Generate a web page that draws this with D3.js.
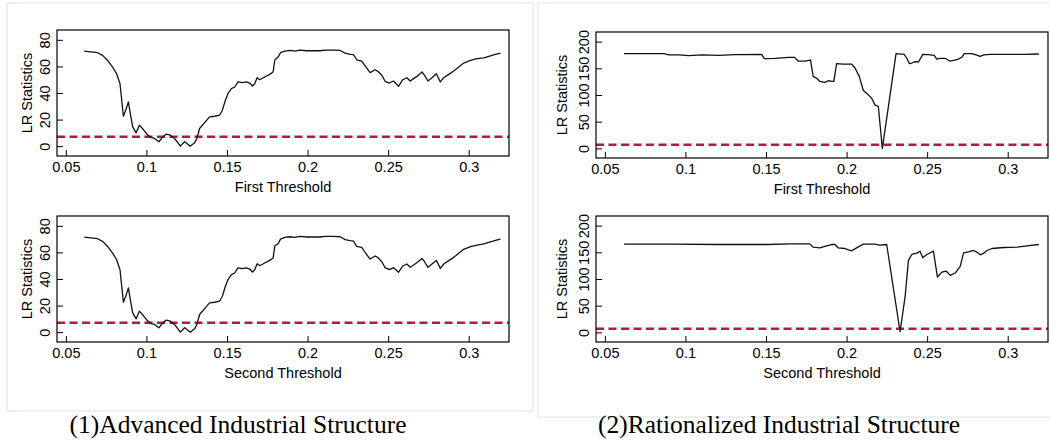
<!DOCTYPE html>
<html>
<head>
<meta charset="utf-8">
<script src="https://cdn.jsdelivr.net/npm/d3@7"></script>
<style>
  body { margin: 0; background: #fff; }
  svg { display: block; }
  .tick text { font-family: "Liberation Sans", Arial, sans-serif; font-size: 14.5px; fill: #000; }
  .tick line { stroke: #000; }
</style>
</head>
<body>
<div id="chart"></div>
<script>
// threshold grid and LR statistics
var advFirstX = [0.0614, 0.0697, 0.0728, 0.0759, 0.0790, 0.0815, 0.0836, 0.0857, 0.0873, 0.0888, 0.0900, 0.0915,
    0.0936, 0.0956, 0.0981, 0.1008, 0.1029, 0.1050, 0.1077, 0.1102, 0.1122, 0.1149, 0.1174, 0.1191, 0.1210,
    0.1237, 0.1251, 0.1272, 0.1299, 0.1313, 0.1330, 0.1365, 0.1392, 0.1423, 0.1454, 0.1471, 0.1490, 0.1506,
    0.1527, 0.1548, 0.1568, 0.1595, 0.1620, 0.1641, 0.1658, 0.1672, 0.1687, 0.1703, 0.1734, 0.1765, 0.1786,
    0.1797, 0.1817, 0.1832, 0.1859, 0.1890, 0.1921, 0.1952, 0.1994, 0.2035, 0.2077, 0.2108, 0.2160, 0.2202,
    0.2233, 0.2264, 0.2285, 0.2305, 0.2336, 0.2363, 0.2388, 0.2419, 0.2434, 0.2461, 0.2481, 0.2508, 0.2533,
    0.2550, 0.2564, 0.2591, 0.2616, 0.2637, 0.2658, 0.2678, 0.2710, 0.2726, 0.2747, 0.2772, 0.2799, 0.2824,
    0.2845, 0.2876, 0.2907, 0.2938, 0.2969, 0.3011, 0.3052, 0.3094, 0.3135, 0.3166, 0.3197];
var advFirstLR = [71.5, 70.3, 68.3, 64.5, 59.5, 54.5, 47.0, 22.5, 27.5, 33.3, 24.5, 14.5,
    10.0, 15.8, 12.5, 8.3, 6.5, 5.8, 3.3, 7.0, 9.0, 8.3, 5.8, 3.3, 0.0,
    3.3, 2.0, 0.0, 2.5, 5.8, 13.3, 18.3, 22.0, 22.5, 23.3, 27.0, 34.5, 39.5,
    43.3, 44.5, 48.3, 47.8, 48.3, 47.5, 45.3, 47.0, 51.5, 50.0, 52.0, 54.0, 55.8,
    65.0, 67.0, 70.3, 71.5, 72.0, 71.5, 72.3, 71.8, 71.8, 71.8, 72.3, 72.3, 72.0,
    70.0, 69.0, 68.8, 65.0, 64.0, 59.5, 55.3, 57.5, 56.5, 53.3, 48.8, 47.5, 49.0,
    47.0, 45.0, 50.0, 51.5, 49.0, 50.8, 52.5, 55.8, 53.3, 49.0, 51.5, 54.5, 48.3,
    51.5, 54.0, 56.5, 59.5, 62.5, 64.5, 65.8, 66.5, 68.0, 69.0, 70.0];

var advSecondX = advFirstX.slice();
var advSecondLR = [71.5, 70.3, 68.3, 64.5, 59.5, 54.5, 47.0, 22.5, 27.5, 33.3, 24.5, 14.5,
    10.0, 15.8, 12.5, 8.3, 6.5, 5.8, 3.3, 7.0, 9.0, 8.3, 5.8, 3.3, 0.0,
    3.3, 2.0, 0.0, 2.5, 5.8, 13.3, 18.3, 22.0, 22.5, 23.3, 27.0, 34.5, 39.5,
    43.3, 44.5, 48.3, 47.8, 48.3, 47.5, 45.3, 47.0, 51.5, 50.0, 52.0, 54.0, 55.8,
    65.0, 66.5, 70.0, 71.3, 71.8, 71.3, 72.0, 71.6, 71.6, 71.6, 72.1, 72.1, 71.8,
    69.6, 68.8, 68.5, 64.5, 63.8, 59.0, 55.0, 57.3, 56.3, 53.0, 48.5, 47.0, 48.5,
    46.8, 45.0, 49.8, 51.3, 48.8, 50.5, 52.3, 55.5, 53.0, 48.8, 51.3, 54.0, 48.0,
    51.3, 53.8, 56.3, 59.3, 62.3, 64.3, 65.5, 66.5, 68.0, 69.0, 70.0];

var ratFirstX = [0.0619, 0.0691, 0.0866, 0.0897, 0.0959, 0.1021, 0.1103, 0.1206, 0.1309, 0.1473, 0.1490,
    0.1556, 0.1638, 0.1678, 0.1699, 0.1741, 0.1776, 0.1793, 0.1813, 0.1834, 0.1865, 0.1886, 0.1907, 0.1921,
    0.1938, 0.1979, 0.2031, 0.2052, 0.2079, 0.2104, 0.2135, 0.2156, 0.2176, 0.2197, 0.2222, 0.2307,
    0.2357, 0.2373, 0.2390, 0.2405, 0.2425, 0.2446, 0.2473, 0.2508, 0.2544, 0.2560, 0.2581, 0.2612,
    0.2639, 0.2664, 0.2695, 0.2716, 0.2730, 0.2778, 0.2799, 0.2830, 0.2851, 0.2892, 0.2996, 0.3100, 0.3193];
var ratFirstLR = [177.4, 177.4, 177.4, 175.0, 175.0, 173.7, 175.0, 174.3, 175.6, 176.2, 168.0,
    168.7, 170.5, 170.5, 163.6, 163.6, 165.5, 134.8, 131.7, 125.4, 123.5, 126.7, 125.4, 125.4,
    158.6, 158.0, 158.0, 150.5, 134.8, 108.5, 100.3, 94.0, 81.5, 78.4, 0.0, 177.4,
    176.2, 169.3, 158.6, 159.9, 162.4, 161.8, 176.2, 175.6, 174.3, 167.4, 168.7, 168.7,
    163.6, 164.9, 167.4, 171.0, 177.4, 177.4, 175.6, 172.4, 175.0, 176.2, 176.2, 176.2, 176.8];

var ratSecondX = [0.0619, 0.0897, 0.1206, 0.1514, 0.1647, 0.1772, 0.1793, 0.1834, 0.1876, 0.1907, 0.1927,
    0.1948, 0.1990, 0.2031, 0.2062, 0.2104, 0.2176, 0.2207, 0.2249, 0.2332, 0.2363, 0.2384, 0.2405,
    0.2436, 0.2456, 0.2473, 0.2498, 0.2539, 0.2564, 0.2591, 0.2618, 0.2643, 0.2674, 0.2705, 0.2726,
    0.2757, 0.2788, 0.2809, 0.2830, 0.2851, 0.2871, 0.2902, 0.2975, 0.3058, 0.3120, 0.3193];
var ratSecondLR = [165.2, 165.2, 164.6, 164.6, 165.8, 165.8, 159.6, 158.4, 162.1, 164.6, 164.6,
    158.4, 157.1, 152.8, 158.4, 165.2, 165.2, 163.3, 164.6, 1.2, 66.4, 134.8, 145.9,
    148.4, 152.1, 139.7, 145.9, 152.1, 103.7, 113.0, 114.9, 106.8, 111.2, 123.6, 149.0,
    150.9, 153.4, 150.3, 145.3, 148.4, 153.4, 157.1, 159.0, 159.6, 162.1, 164.6];

// critical values (dashed lines)
var advCrit = 7.0;
var ratCrit = 6.6;

var xTicks = [0.05, 0.1, 0.15, 0.2, 0.25, 0.3];
var xTickLabels = ["0.05", "0.1", "0.15", "0.2", "0.25", "0.3"];
var advYTicks = [0, 20, 40, 60, 80];
var ratYTicks = [0, 50, 100, 150, 200];

var captions = ["(1)Advanced Industrial Structure", "(2)Rationalized Industrial Structure"];

var svg = d3.select("#chart").append("svg")
    .attr("width", 1050)
    .attr("height", 440);

// faint frames around the two figure halves
svg.append("rect")
    .attr("x", 7).attr("y", 3).attr("width", 526).attr("height", 408)
    .attr("fill", "none").attr("stroke", "#e6edf0").attr("stroke-width", 1.5);
svg.append("rect")
    .attr("x", 538).attr("y", 3).attr("width", 520).attr("height", 414)
    .attr("fill", "none").attr("stroke", "#e6edf0").attr("stroke-width", 1.5);

var panels = [
    {left: 57, top: 30, right: 509, bottom: 156, xs: advFirstX, ys: advFirstLR, yDomain: [-7.4, 87.4],
        yTicks: advYTicks, crit: advCrit, title: "First Threshold", labX: 32},
    {left: 57, top: 216, right: 509, bottom: 342, xs: advSecondX, ys: advSecondLR, yDomain: [-7.4, 87.4],
        yTicks: advYTicks, crit: advCrit, title: "Second Threshold", labX: 32},
    {left: 596, top: 32, right: 1048, bottom: 158, xs: ratFirstX, ys: ratFirstLR, yDomain: [-18, 218],
        yTicks: ratYTicks, crit: ratCrit, title: "First Threshold", labX: 567},
    {left: 596, top: 216, right: 1048, bottom: 342, xs: ratSecondX, ys: ratSecondLR, yDomain: [-18, 218],
        yTicks: ratYTicks, crit: ratCrit, title: "Second Threshold", labX: 567}
];

panels.forEach(function (p) {
    var x = d3.scaleLinear().domain([0.0445, 0.325]).range([p.left, p.right]);
    var y = d3.scaleLinear().domain(p.yDomain).range([p.bottom, p.top]);
    var g = svg.append("g");

    // x axis, ticks pointing inward
    var xa = g.append("g")
        .attr("transform", "translate(0," + p.bottom + ")")
        .call(d3.axisBottom(x)
            .tickValues(xTicks)
            .tickFormat(function (d, i) { return xTickLabels[i]; })
            .tickSizeInner(-6)
            .tickSizeOuter(0)
            .tickPadding(6));
    xa.select(".domain").remove();

    // y axis, labels parallel to the axis
    var ya = g.append("g")
        .attr("transform", "translate(" + p.left + ",0)")
        .call(d3.axisLeft(y)
            .tickValues(p.yTicks)
            .tickSizeInner(-6)
            .tickSizeOuter(0));
    ya.select(".domain").remove();
    ya.selectAll(".tick text")
        .attr("transform", "rotate(-90)")
        .attr("x", 0)
        .attr("y", -7)
        .attr("dy", 0)
        .style("text-anchor", "middle");

    // critical value
    g.append("line")
        .attr("x1", p.left).attr("x2", p.right)
        .attr("y1", y(p.crit)).attr("y2", y(p.crit))
        .attr("stroke", "#c4103f")
        .attr("stroke-width", 2.5)
        .attr("stroke-dasharray", "8,4.5");

    var line = d3.line()
        .x(function (d, i) { return x(p.xs[i]); })
        .y(function (d) { return y(d); });

    g.append("path")
        .datum(p.ys)
        .attr("d", line)
        .attr("fill", "none")
        .attr("stroke", "#111")
        .attr("stroke-width", 1.3)
        .attr("stroke-linejoin", "round");

    g.append("rect")
        .attr("x", p.left).attr("y", p.top)
        .attr("width", p.right - p.left).attr("height", p.bottom - p.top)
        .attr("fill", "none").attr("stroke", "#000").attr("stroke-width", 1.2);

    g.append("text")
        .attr("x", (p.left + p.right) / 2)
        .attr("y", p.bottom + 36)
        .attr("text-anchor", "middle")
        .style("font-family", "Liberation Sans, Arial, sans-serif")
        .style("font-size", "14.5px")
        .text(p.title);

    g.append("text")
        .attr("transform", "translate(" + p.labX + "," + (p.top + p.bottom) / 2 + ") rotate(-90)")
        .attr("text-anchor", "middle")
        .style("font-family", "Liberation Sans, Arial, sans-serif")
        .style("font-size", "14.5px")
        .text("LR Statistics");
});

// captions under each half
var capX = [238, 779];
var capW = [337, 362];
captions.forEach(function (c, i) {
    svg.append("text")
        .attr("x", capX[i] - capW[i] / 2)
        .attr("y", 433)
        .attr("textLength", capW[i])
        .attr("lengthAdjust", "spacingAndGlyphs")
        .style("font-family", "Liberation Serif, Times New Roman, serif")
        .style("font-size", "25px")
        .text(c);
});
</script>
</body>
</html>
